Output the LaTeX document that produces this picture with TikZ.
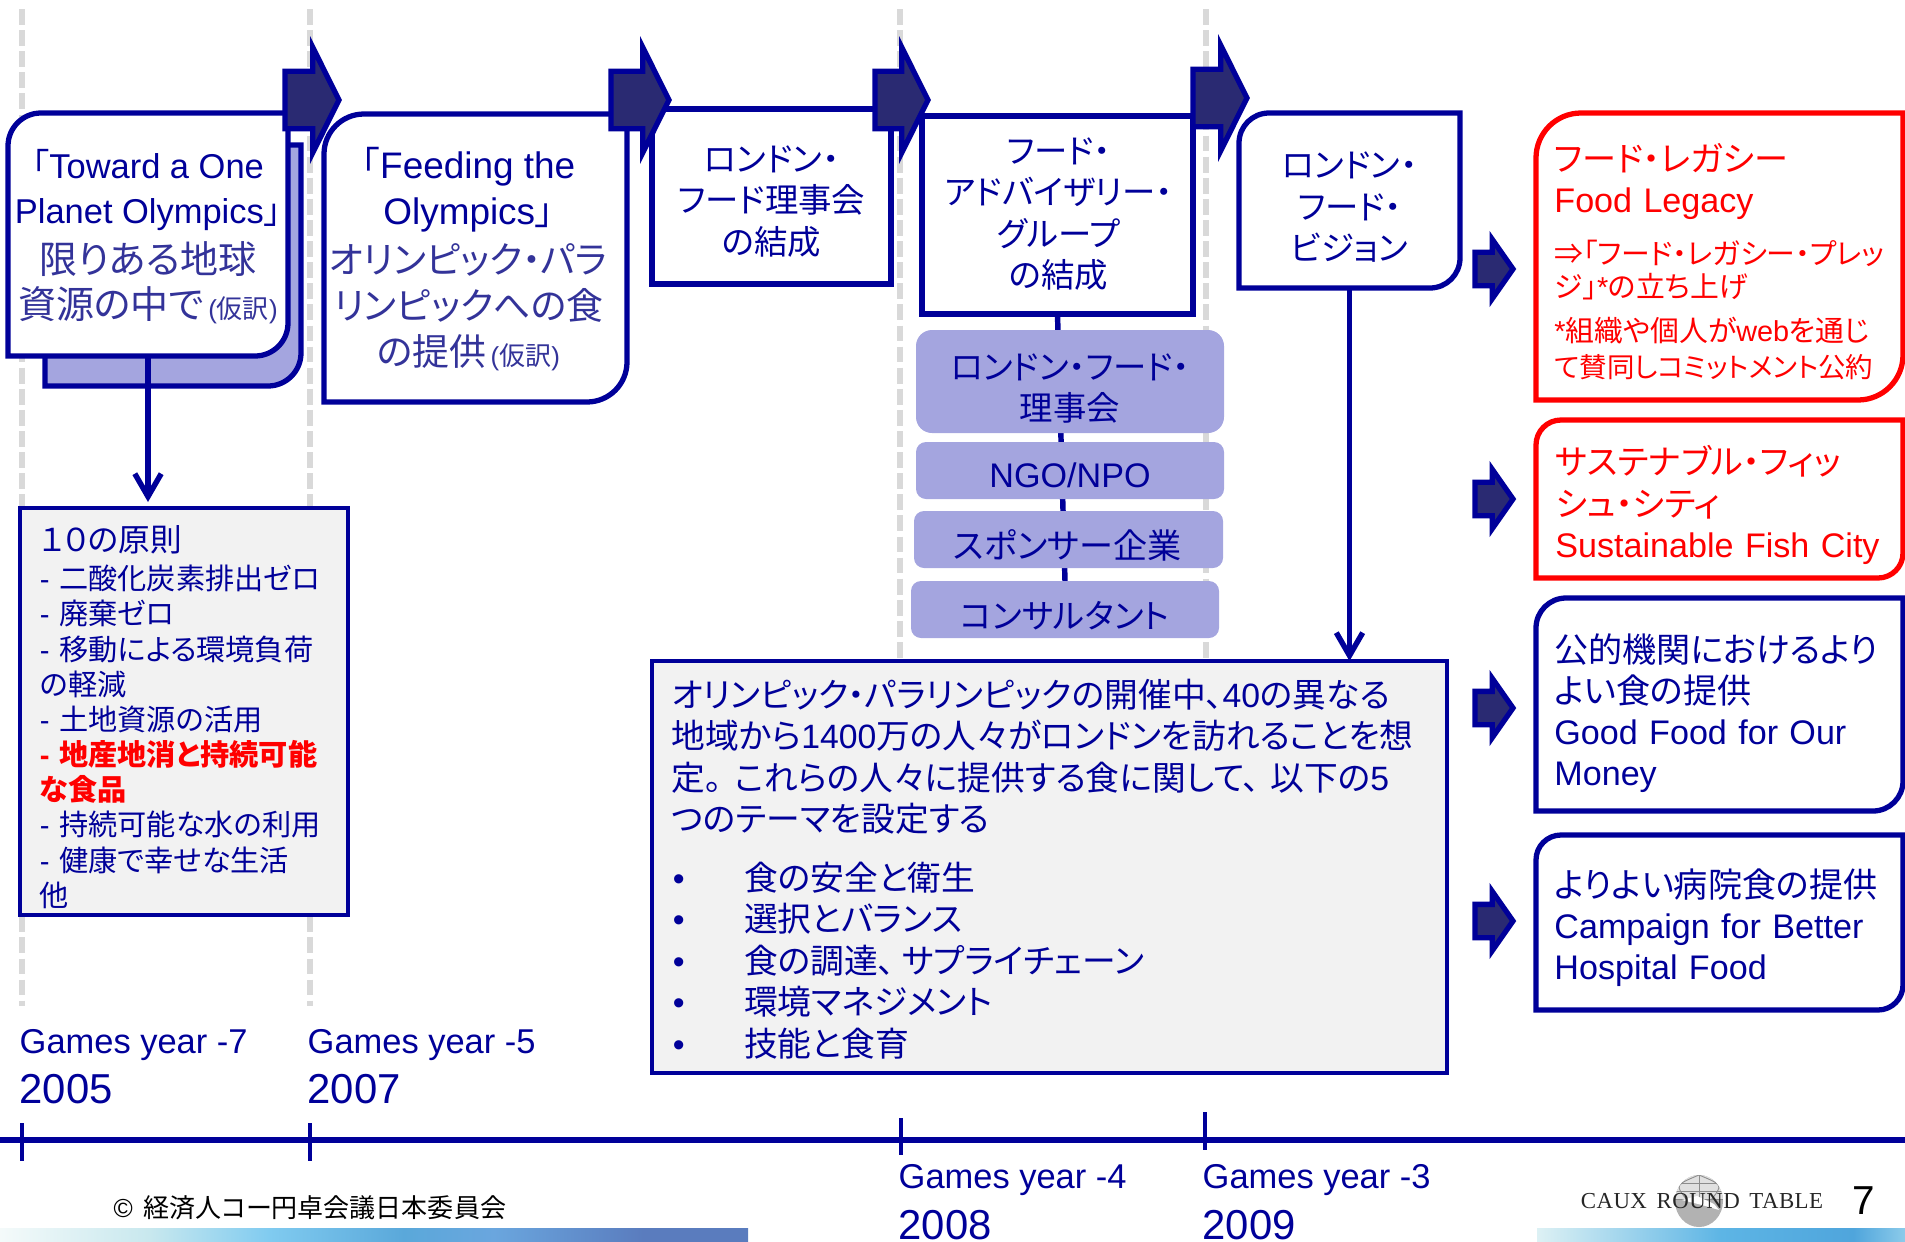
\documentclass[tikz,border=0pt]{standalone}
\usepackage{fontspec}
\setmainfont{Liberation Sans}
\newfontfamily\jpfont[RawFeature=+palt]{Noto Sans CJK JP}
\newfontfamily\logofont[LetterSpace=2]{Liberation Serif}
\newcommand{\jp}[1]{{\jpfont #1}}
\newcommand{\itemline}[1]{\makebox[20.6pt][l]{\hspace*{0.3pt}•}\jp{#1}}
\newcommand{\tentative}[1]{{\fontsize{7.4}{#1}\selectfont\,(\jp{仮訳})}}
\usetikzlibrary{arrows.meta,backgrounds,shapes.arrows,shapes.geometric}
\definecolor{navy}{HTML}{000099}
\definecolor{softnavy}{HTML}{333399}
\definecolor{lilac}{HTML}{A4A5DF}
\definecolor{deep}{HTML}{2A2A72}
\definecolor{paper}{HTML}{F2F2F2}
\definecolor{guide}{HTML}{D9D9D9}
\definecolor{barwhite}{HTML}{F4FAFA}
\definecolor{barpale}{HTML}{C8E8EE}
\definecolor{barsky}{HTML}{80CBF0}
\definecolor{barmid}{HTML}{5AA8DA}
\definecolor{barsoft}{HTML}{6AA6DE}
\definecolor{barslate}{HTML}{5A7CBE}
\definecolor{barice}{HTML}{DDF1F4}
\definecolor{barblue}{HTML}{5DB5E5}
\definecolor{bardeep}{HTML}{4FA5DC}
\definecolor{barlight}{HTML}{8CCBEA}
\pgfdeclarehorizontalshading{barleft}{100bp}{color(0bp)=(barwhite); color(25bp)=(barwhite); color(35bp)=(barpale); color(43bp)=(barsky); color(52bp)=(barmid); color(58bp)=(barsoft); color(68bp)=(barslate); color(100bp)=(barslate)}
\pgfdeclarehorizontalshading{barright}{100bp}{color(0bp)=(barice); color(25bp)=(barice); color(50bp)=(barblue); color(68bp)=(bardeep); color(75bp)=(barlight); color(100bp)=(barlight)}
\tikzset{
  boxspan/.style n args={4}{rectangle, inner sep=0pt, outer sep=0pt,
    at={({(#1+#3)/2},{(#2+#4)/2})},
    minimum width={(#3-#1)*0.01cm}, minimum height={(#4-#2)*0.01cm}},
  boxtext/.style={align=center, inner sep=0pt, text=navy, font=\fontsize{9.5}{11.8}\selectfont},
  sidetext/.style={align=left, inner sep=0pt, text=navy, text width=3.3cm, font=\fontsize{9.7}{11.7}\selectfont},
  framebox/.style={draw=navy, fill=paper, line width=1.25pt},
  lilacbox/.style={fill=lilac, rounded corners=#1*0.01cm},
  bigarrow/.style={single arrow, draw=navy, fill=deep, line width=1.5pt, miter limit=10,
    inner xsep=0pt, inner ysep=0.26cm, outer sep=0pt, anchor=tail, minimum width=1.0cm,
    single arrow head extend=0.24cm, single arrow tip angle=127},
  smallarrow/.style={bigarrow, inner ysep=0.14cm, minimum width=0.54cm, minimum height=0.38cm,
    single arrow head extend=0.13cm, single arrow tip angle=110},
  flowline/.style={draw=navy, line width=1.55pt},
  flowarrow/.style={flowline, -{Straight Barb[length=6.5pt,width=7.5pt]}},
  yearlabel/.style={anchor=west, inner sep=0pt, text=navy},
}
\begin{document}
\begin{tikzpicture}[x=0.01cm, y=-0.01cm]
  \useasboundingbox (0,0) rectangle (1905,1242);

  % boxes along the top
  \node[boxspan={8}{113}{288}{356}] (toward) {};
  \node[boxspan={324}{114}{627}{402}] (feeding) {};
  \node[boxspan={652}{109}{891}{284}] (council) {};
  \node[boxspan={922}{116}{1193}{314}] (advisory) {};
  \node[boxspan={1239}{113}{1460}{288}] (vision) {};
  \node[boxtext, font=\fontsize{9.8}{12.8}\selectfont] (towardtext) at ([shift={(0,2)}]toward.center)
    {\jp{「}Toward a One\\Planet Olympics\jp{」}\\[1.2pt]
    \textcolor{softnavy}{\fontsize{10.8}{12.8}\selectfont\jp{限りある地球}}\\
    \textcolor{softnavy}{\fontsize{10.8}{12.8}\selectfont\jp{資源の中で}\tentative{12.8}}};
  \node[boxtext, font=\fontsize{10.5}{13}\selectfont] (feedingtext) at ([shift={(-7,1)}]feeding.center)
    {\jp{「}Feeding the\\Olympics\jp{」}\\[1pt]
    \textcolor{softnavy}{\jp{オリンピック・パラ}}\\\textcolor{softnavy}{\jp{リンピックへの食}}\\
    \textcolor{softnavy}{\jp{の提供}\tentative{13}}};
  \node[boxtext] (counciltext) at ([shift={(0,5)}]council.center) {\jp{ロンドン・}\\\jp{フード理事会}\\\jp{の結成}};
  \node[boxtext] (advisorytext) at ([shift={(1,-1)}]advisory.center) {\jp{フード・}\\\jp{アドバイザリー・}\\\jp{グループ}\\\jp{の結成}};
  \node[boxtext] (visiontext) at ([shift={(0,7)}]vision.center) {\jp{ロンドン・}\\\jp{フード・}\\\jp{ビジョン}};

  % members of the advisory group
  \node[boxspan={916}{330}{1224}{433}, lilacbox=16] (member) {};
  \node[boxspan={916}{442}{1224}{499}, lilacbox=10] (ngo) {};
  \node[boxspan={914}{511}{1223}{568}, lilacbox=10] (sponsor) {};
  \node[boxspan={911}{581}{1219}{638}, lilacbox=10] (consult) {};
  \node[boxtext] (membertext) at ([shift={(0,7)}]member.center) {\jp{ロンドン・フード・}\\\jp{理事会}};
  \node[boxtext, font=\fontsize{9.7}{11.8}\selectfont] (ngotext) at ([shift={(0,5)}]ngo.center) {NGO/NPO};
  \node[boxtext, font=\fontsize{9.7}{11.8}\selectfont] (sponsortext) at ([shift={(-1,6)}]sponsor.center) {\jp{スポンサー企業}};
  \node[boxtext] (consulttext) at ([shift={(0,6)}]consult.center) {\jp{コンサルタント}};

  % grey text boxes
  \node[boxspan={20}{508}{348}{915}, framebox] (tenrules) {};
  \node[boxspan={652}{661}{1447}{1073}, framebox] (theme) {};
  \node[boxtext, align=left, text width=2.88cm, font=\fontsize{8.3}{10}\selectfont] (tenrulestext) at ([shift={(0,5.5)}]tenrules.center)
    {{\fontsize{9}{10}\selectfont\jp{１０の原則}}\\[0.9pt]
    - \jp{二酸化炭素排出ゼロ}\\- \jp{廃棄ゼロ}\\- \jp{移動による環境負荷}\\\jp{の軽減}\\- \jp{土地資源の活用}\\
    \textcolor{red}{\bfseries - \jp{地産地消と持続可能}}\\\textcolor{red}{\bfseries\jp{な食品}}\\
    - \jp{持続可能な水の利用}\\- \jp{健康で幸せな生活}\\\jp{他}};
  \node[boxtext, align=left, text width=7.55cm, font=\fontsize{9.6}{11.8}\selectfont] (themetext) at ([shift={(0,2)}]theme.center)
    {\jp{オリンピック・パラリンピックの開催中、}40\jp{の異なる}\\
    \jp{地域から}1400\jp{万の人々がロンドンを訪れることを想}\\
    \jp{定。}\hspace{3.5pt}\jp{これらの人々に提供する食に関して、}\hspace{3pt}\jp{以下の}5\\
    \jp{つのテーマを設定する}\\[4.8pt]
    \itemline{食の安全と衛生}\\\itemline{選択とバランス}\\\itemline{食の調達、\hspace{2pt}サプライチェーン}\\\itemline{環境マネジメント}\\\itemline{技能と食育}};

  % campaign boxes on the right
  \node[boxspan={1536}{113}{1903}{400}] (legacy) {};
  \node[boxspan={1536}{420}{1903}{578}] (fish) {};
  \node[boxspan={1536}{598}{1903}{811}] (money) {};
  \node[boxspan={1536}{835}{1903}{1010}] (hospital) {};
  \node[sidetext, text=red] (legacytext) at ([shift={(0,5)}]legacy.center) {\jp{フード・レガシー}\\Food Legacy\\[5.4pt]
    {\fontsize{8.2}{9.4}\selectfont\jp{⇒「フード・レガシー・プレッ}\\\jp{ジ」}*\jp{の立ち上げ}\\[3pt]
    *\jp{組織や個人が}web\jp{を通じ}\\[-1.3pt]{\fontsize{7.8}{9.4}\selectfont\jp{て賛同しコミットメント公約}}}};
  \node[sidetext, text=red] (fishtext) at ([shift={(1,6)}]fish.center) {\jp{サステナブル・フィッ}\\\jp{シュ・シティ}\\Sustainable Fish City};
  \node[sidetext] (moneytext) at ([shift={(0,8.5)}]money.center) {\jp{公的機関におけるより}\\\jp{よい食の提供}\\Good Food for Our\\Money};
  \node[sidetext] (hospitaltext) at ([shift={(0,5)}]hospital.center) {\jp{よりよい病院食の提供}\\Campaign for Better\\Hospital Food};

  \begin{scope}[on background layer]
    \foreach \x/\yend in {22/1006, 310/1006, 900/700, 1206/700} {
      \draw[guide, line width=1.5pt, dash pattern=on 4.5pt off 1.5pt] (\x,9) -- (\x,\yend);
    }
    \draw[flowline] (advisory.south) -- (consult.north);
    \node[boxspan={45}{145}{301}{386}] (backing) {};
    \foreach \nm/\rad/\col/\tint in {
      backing/33/navy/lilac, toward/33/navy/white, feeding/40/navy/white,
      council/0/navy/white, advisory/0/navy/white, vision/30/navy/white,
      legacy/45/red/white, fish/25/red/white, money/30/navy/white, hospital/25/navy/white} {
      \draw[line width=1.5pt, draw=\col, fill=\tint, line join=miter]
        (\nm.west) [rounded corners=\rad*0.01cm] -- (\nm.north west) -- (\nm.north) [sharp corners]
        -- (\nm.north east) -- (\nm.east) [rounded corners=\rad*0.01cm] -- (\nm.south east) -- (\nm.south) [sharp corners]
        -- (\nm.south west) -- cycle;
    }
  \end{scope}

  \draw[flowarrow, shorten >=1.7pt] (toward.south) -- (toward.south |- tenrules.north);
  \draw[flowarrow] (vision.south) -- (vision.south |- theme.north);

  % block arrows
  \foreach \nm/\x/\y/\len in {arrowa/285/100/54, arrowb/611/100/58, arrowc/875/100/53, arrowd/1193/98/54} {
    \node[bigarrow, minimum height=\len*0.01cm] (\nm) at (\x,\y) {};
  }
  \foreach \nm/\y in {arrowe/269, arrowf/499, arrowg/708, arrowh/921} {
    \node[smallarrow] (\nm) at (1475,\y) {};
  }

  % time axis
  \coordinate (axisstart) at (0,1140);
  \coordinate (axisend) at (1905,1140);
  \draw[navy, line width=1.7pt] (axisstart) -- (axisend);
  \foreach \x/\ya/\yb in {22/1123/1161, 310/1123/1161, 901/1118/1155, 1205/1112/1150} {
    \draw[navy, line width=1.3pt] (\x,\ya) -- (\x,\yb);
  }
  \foreach \x/\a/\yr/\ya/\yb in {19/7/2005/1045/1089, 307/5/2007/1045/1089, 898/4/2008/1180/1225, 1202/3/2009/1180/1225} {
    \node[yearlabel, font=\fontsize{9.8}{12}\selectfont] (games\a) at (\x,\ya) {Games year -\a};
    \node[yearlabel, font=\fontsize{11.9}{14}\selectfont] (year\yr) at (\x,\yb) {\yr};
  }

  % footer
  \shade[shading=barleft] (0,1228) rectangle (748,1242);
  \shade[shading=barright] (1537,1228) rectangle (1905,1242);
  \node[yearlabel, text=black, font=\fontsize{7.4}{9}\selectfont] (copyright) at (113,1208) {©\hspace{3pt}\jp{経済人コー円卓会議日本委員会}};
  \node[ellipse, fill=black!30, minimum width=0.48cm, minimum height=0.52cm, inner sep=0pt] (globe) at (1699,1201) {};
  \begin{scope}
    \clip (globe.center) ellipse [x radius=24, y radius=26];
    \fill[black!12] (1672,1170) rectangle (1727,1199);
    \foreach \y in {1183, 1191, 1199} {
      \draw[black!45, line width=0.25pt] (1672,\y) -- (1727,\y);
    }
    \foreach \a in {-12, 0, 12} {
      \draw[black!45, line width=0.25pt] (1699,1175) .. controls (1699+2*\a,1185) .. (1699+\a,1200);
    }
    \fill[white] (1682,1200) -- (1697,1196) -- (1714,1204) -- (1719,1210) -- (1702,1205) -- cycle;
  \end{scope}
  \node[inner sep=0pt, text=black!85, font=\fontsize{6.5}{8}\logofont] (caux) at (1702,1201) {CAUX\hspace{1pt} ROUND\hspace{1pt} TABLE};
  \node[inner sep=0pt, text=black, font=\fontsize{11.5}{14}\selectfont] (pageno) at (1864,1201) {7};
\end{tikzpicture}
\end{document}
